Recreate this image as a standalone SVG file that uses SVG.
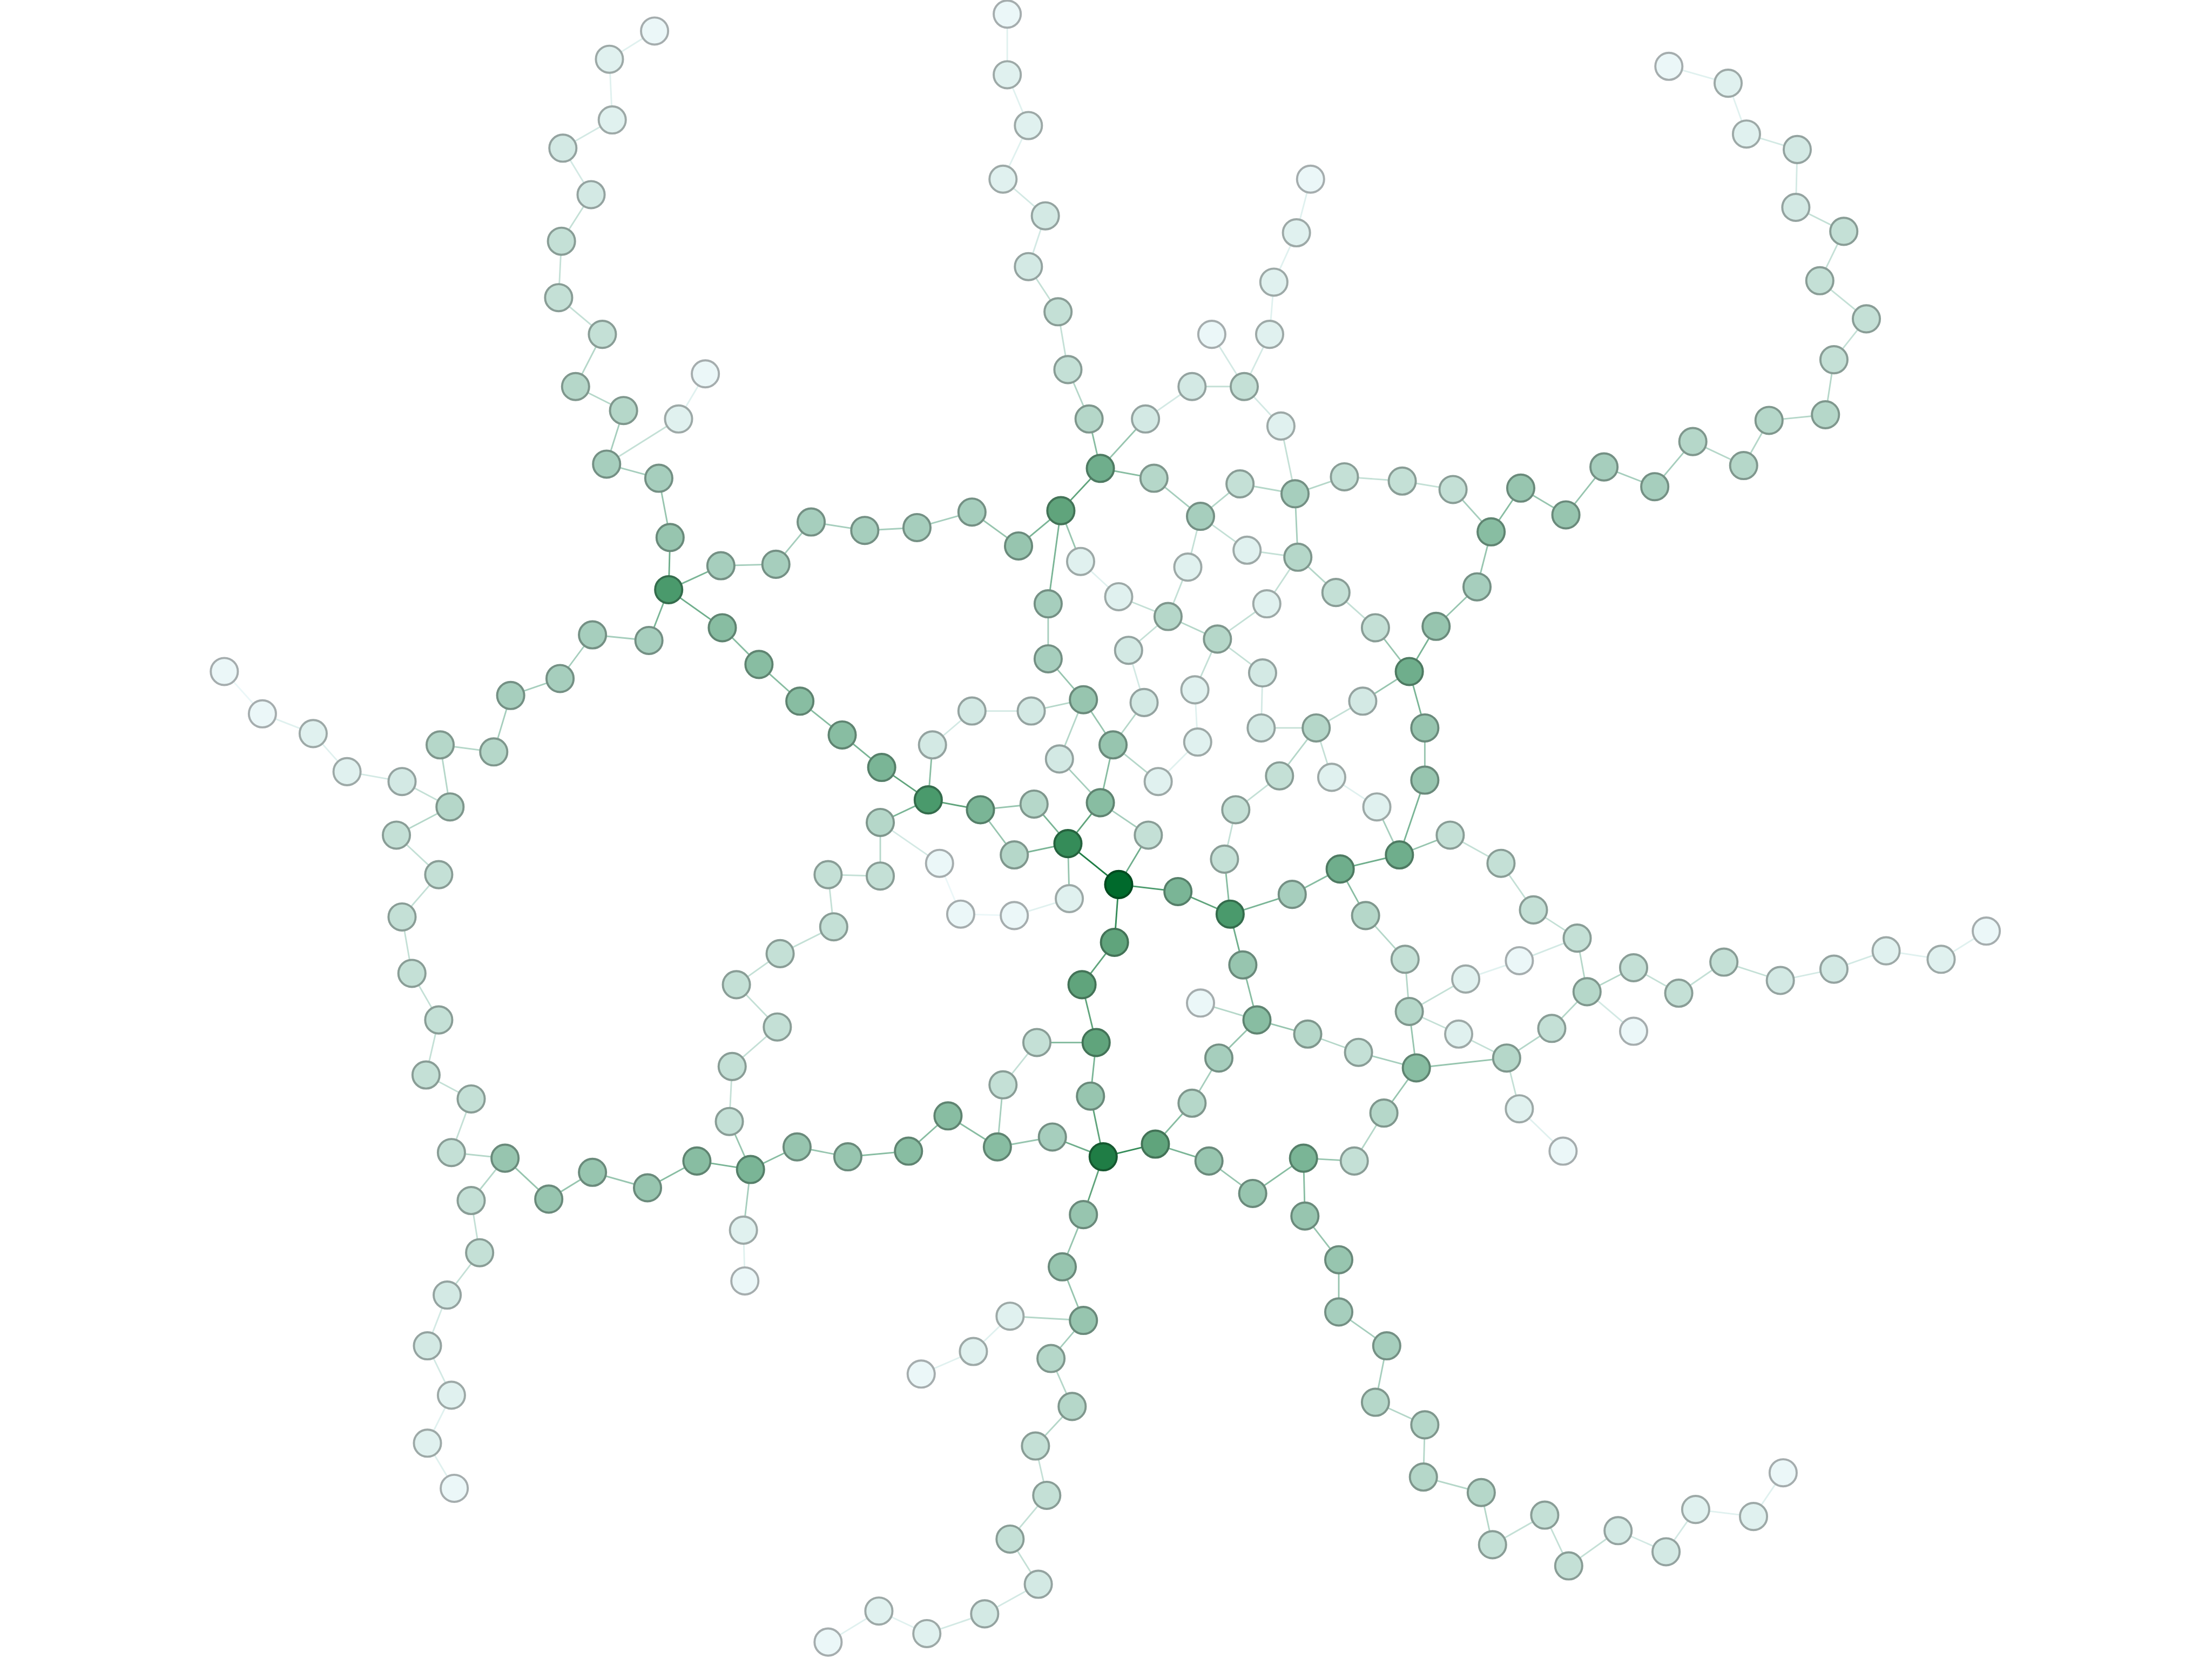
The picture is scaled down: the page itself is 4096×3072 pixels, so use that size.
<svg xmlns="http://www.w3.org/2000/svg" width="4096" height="3072" viewBox="0 0 4096 3072">
<style>
circle{stroke-width:1.5}
line{stroke-width:1.1;fill:none}
.n0{fill:#006a2c;stroke:#004a1f}.n1{fill:#1f7d45;stroke:#165830}.n2{fill:#358c59;stroke:#25623e}.n3{fill:#4a9a6c;stroke:#346c4c}.n4{fill:#60a47c;stroke:#437357}.n5{fill:#6fae8c;stroke:#4e7a62}.n6{fill:#7ab596;stroke:#557f69}.n7{fill:#88bda2;stroke:#5f8471}.n8{fill:#97c5af;stroke:#6a8a7b}.n9{fill:#a6cebd;stroke:#749084}.n10{fill:#b5d7c9;stroke:#7f978d}.n11{fill:#c4e0d6;stroke:#899d96}.n12{fill:#d3e9e4;stroke:#94a3a0}.n13{fill:#e0f1ef;stroke:#9da9a7}.n14{fill:#ebf7f8;stroke:#a5adae}
.e1{stroke:#1f7d45}.e2{stroke:#358c59}.e3{stroke:#4a9a6c}.e4{stroke:#60a47c}.e5{stroke:#6fae8c}.e6{stroke:#7ab596}.e7{stroke:#88bda2}.e8{stroke:#97c5af}.e9{stroke:#a6cebd}.e10{stroke:#b5d7c9}.e11{stroke:#c4e0d6}.e12{stroke:#d3e9e4}.e13{stroke:#e0f1ef}.e14{stroke:#ebf7f8}
</style>
<rect x="0" y="0" width="4096" height="3072" fill="#ffffff"/>
<g transform="scale(2.61224)">
<g id="connectors">
<line class="e1" x1="793" y1="627" x2="757" y2="598"/>
<line class="e3" x1="793" y1="627" x2="835" y2="632"/>
<line class="e2" x1="793" y1="627" x2="790" y2="668"/>
<line class="e5" x1="793" y1="627" x2="814" y2="592"/>
<line class="e4" x1="757" y1="598" x2="780" y2="569"/>
<line class="e6" x1="757" y1="598" x2="733" y2="570"/>
<line class="e6" x1="757" y1="598" x2="719" y2="606"/>
<line class="e8" x1="757" y1="598" x2="758" y2="637"/>
<line class="e9" x1="780" y1="569" x2="814" y2="592"/>
<line class="e7" x1="780" y1="569" x2="789" y2="528"/>
<line class="e9" x1="780" y1="569" x2="751" y2="538"/>
<line class="e8" x1="695" y1="574" x2="733" y2="570"/>
<line class="e8" x1="695" y1="574" x2="719" y2="606"/>
<line class="e4" x1="658" y1="567" x2="695" y2="574"/>
<line class="e6" x1="658" y1="567" x2="624" y2="583"/>
<line class="e7" x1="658" y1="567" x2="661" y2="528"/>
<line class="e4" x1="658" y1="567" x2="625" y2="544"/>
<line class="e10" x1="624" y1="583" x2="624" y2="621"/>
<line class="e12" x1="624" y1="583" x2="666" y2="612"/>
<line class="e11" x1="624" y1="621" x2="587" y2="620"/>
<line class="e11" x1="587" y1="620" x2="591" y2="657"/>
<line class="e11" x1="591" y1="657" x2="553" y2="676"/>
<line class="e14" x1="666" y1="612" x2="681" y2="648"/>
<line class="e14" x1="681" y1="648" x2="719" y2="649"/>
<line class="e13" x1="719" y1="649" x2="758" y2="637"/>
<line class="e4" x1="835" y1="632" x2="872" y2="648"/>
<line class="e7" x1="872" y1="648" x2="868" y2="609"/>
<line class="e11" x1="868" y1="609" x2="876" y2="574"/>
<line class="e11" x1="876" y1="574" x2="907" y2="550"/>
<line class="e5" x1="872" y1="648" x2="881" y2="684"/>
<line class="e6" x1="872" y1="648" x2="916" y2="634"/>
<line class="e7" x1="916" y1="634" x2="950" y2="616"/>
<line class="e5" x1="950" y1="616" x2="992" y2="606"/>
<line class="e7" x1="950" y1="616" x2="968" y2="649"/>
<line class="e10" x1="968" y1="649" x2="996" y2="680"/>
<line class="e10" x1="996" y1="680" x2="999" y2="717"/>
<line class="e11" x1="999" y1="717" x2="1039" y2="694"/>
<line class="e13" x1="1039" y1="694" x2="1077" y2="681"/>
<line class="e12" x1="1077" y1="681" x2="1118" y2="665"/>
<line class="e11" x1="1118" y1="665" x2="1087" y2="645"/>
<line class="e11" x1="1087" y1="645" x2="1064" y2="612"/>
<line class="e11" x1="1064" y1="612" x2="1028" y2="592"/>
<line class="e8" x1="1028" y1="592" x2="992" y2="606"/>
<line class="e9" x1="992" y1="606" x2="976" y2="572"/>
<line class="e6" x1="992" y1="606" x2="1010" y2="553"/>
<line class="e10" x1="1118" y1="665" x2="1125" y2="703"/>
<line class="e10" x1="1125" y1="703" x2="1158" y2="686"/>
<line class="e12" x1="1125" y1="703" x2="1158" y2="731"/>
<line class="e10" x1="1125" y1="703" x2="1100" y2="729"/>
<line class="e10" x1="1100" y1="729" x2="1068" y2="750"/>
<line class="e11" x1="1068" y1="750" x2="1077" y2="786"/>
<line class="e13" x1="1077" y1="786" x2="1108" y2="816"/>
<line class="e8" x1="1068" y1="750" x2="1004" y2="757"/>
<line class="e11" x1="1034" y1="733" x2="1068" y2="750"/>
<line class="e11" x1="999" y1="717" x2="1034" y2="733"/>
<line class="e8" x1="999" y1="717" x2="1004" y2="757"/>
<line class="e9" x1="1004" y1="757" x2="963" y2="746"/>
<line class="e10" x1="963" y1="746" x2="927" y2="733"/>
<line class="e8" x1="927" y1="733" x2="891" y2="723"/>
<line class="e7" x1="891" y1="723" x2="881" y2="684"/>
<line class="e10" x1="891" y1="723" x2="851" y2="711"/>
<line class="e8" x1="891" y1="723" x2="864" y2="750"/>
<line class="e9" x1="864" y1="750" x2="845" y2="782"/>
<line class="e7" x1="845" y1="782" x2="819" y2="811"/>
<line class="e2" x1="819" y1="811" x2="782" y2="820"/>
<line class="e6" x1="819" y1="811" x2="857" y2="823"/>
<line class="e8" x1="857" y1="823" x2="888" y2="846"/>
<line class="e7" x1="888" y1="846" x2="924" y2="821"/>
<line class="e8" x1="924" y1="821" x2="960" y2="823"/>
<line class="e10" x1="960" y1="823" x2="981" y2="789"/>
<line class="e8" x1="981" y1="789" x2="1004" y2="757"/>
<line class="e7" x1="924" y1="821" x2="925" y2="862"/>
<line class="e4" x1="790" y1="668" x2="767" y2="698"/>
<line class="e4" x1="767" y1="698" x2="777" y2="739"/>
<line class="e7" x1="777" y1="739" x2="735" y2="739"/>
<line class="e11" x1="735" y1="739" x2="711" y2="769"/>
<line class="e9" x1="711" y1="769" x2="707" y2="813"/>
<line class="e6" x1="777" y1="739" x2="773" y2="777"/>
<line class="e4" x1="773" y1="777" x2="782" y2="820"/>
<line class="e5" x1="782" y1="820" x2="746" y2="806"/>
<line class="e8" x1="746" y1="806" x2="707" y2="813"/>
<line class="e7" x1="707" y1="813" x2="672" y2="791"/>
<line class="e7" x1="672" y1="791" x2="644" y2="816"/>
<line class="e7" x1="644" y1="816" x2="601" y2="820"/>
<line class="e8" x1="601" y1="820" x2="565" y2="813"/>
<line class="e7" x1="565" y1="813" x2="532" y2="829"/>
<line class="e4" x1="782" y1="820" x2="768" y2="861"/>
<line class="e6" x1="532" y1="829" x2="494" y2="823"/>
<line class="e9" x1="532" y1="829" x2="527" y2="872"/>
<line class="e8" x1="532" y1="829" x2="517" y2="795"/>
<line class="e11" x1="1158" y1="686" x2="1190" y2="704"/>
<line class="e11" x1="1190" y1="704" x2="1222" y2="682"/>
<line class="e11" x1="1222" y1="682" x2="1262" y2="695"/>
<line class="e12" x1="1262" y1="695" x2="1300" y2="687"/>
<line class="e12" x1="1300" y1="687" x2="1337" y2="674"/>
<line class="e13" x1="1337" y1="674" x2="1376" y2="680"/>
<line class="e13" x1="1376" y1="680" x2="1408" y2="660"/>
<line class="e4" x1="780" y1="332" x2="752" y2="362"/>
<line class="e7" x1="780" y1="332" x2="818" y2="339"/>
<line class="e7" x1="780" y1="332" x2="772" y2="297"/>
<line class="e8" x1="780" y1="332" x2="812" y2="297"/>
<line class="e6" x1="752" y1="362" x2="722" y2="387"/>
<line class="e6" x1="752" y1="362" x2="743" y2="428"/>
<line class="e8" x1="752" y1="362" x2="766" y2="398"/>
<line class="e8" x1="722" y1="387" x2="689" y2="363"/>
<line class="e9" x1="689" y1="363" x2="650" y2="374"/>
<line class="e9" x1="650" y1="374" x2="613" y2="376"/>
<line class="e9" x1="613" y1="376" x2="575" y2="370"/>
<line class="e9" x1="575" y1="370" x2="550" y2="400"/>
<line class="e9" x1="550" y1="400" x2="511" y2="401"/>
<line class="e6" x1="511" y1="401" x2="474" y2="418"/>
<line class="e13" x1="766" y1="398" x2="793" y2="423"/>
<line class="e11" x1="793" y1="423" x2="828" y2="437"/>
<line class="e11" x1="828" y1="437" x2="842" y2="402"/>
<line class="e11" x1="842" y1="402" x2="851" y2="366"/>
<line class="e10" x1="828" y1="437" x2="863" y2="453"/>
<line class="e11" x1="828" y1="437" x2="800" y2="461"/>
<line class="e12" x1="800" y1="461" x2="811" y2="498"/>
<line class="e10" x1="811" y1="498" x2="789" y2="528"/>
<line class="e10" x1="789" y1="528" x2="821" y2="554"/>
<line class="e13" x1="821" y1="554" x2="849" y2="526"/>
<line class="e13" x1="849" y1="526" x2="847" y2="489"/>
<line class="e11" x1="847" y1="489" x2="863" y2="453"/>
<line class="e11" x1="863" y1="453" x2="898" y2="428"/>
<line class="e11" x1="863" y1="453" x2="895" y2="477"/>
<line class="e9" x1="743" y1="428" x2="743" y2="467"/>
<line class="e8" x1="743" y1="467" x2="768" y2="496"/>
<line class="e10" x1="768" y1="496" x2="731" y2="504"/>
<line class="e12" x1="731" y1="504" x2="689" y2="504"/>
<line class="e12" x1="689" y1="504" x2="661" y2="528"/>
<line class="e10" x1="768" y1="496" x2="751" y2="538"/>
<line class="e8" x1="768" y1="496" x2="789" y2="528"/>
<line class="e9" x1="851" y1="366" x2="818" y2="339"/>
<line class="e10" x1="851" y1="366" x2="879" y2="343"/>
<line class="e11" x1="851" y1="366" x2="884" y2="390"/>
<line class="e12" x1="812" y1="297" x2="845" y2="274"/>
<line class="e11" x1="845" y1="274" x2="882" y2="274"/>
<line class="e12" x1="882" y1="274" x2="859" y2="237"/>
<line class="e12" x1="882" y1="274" x2="900" y2="237"/>
<line class="e13" x1="900" y1="237" x2="903" y2="200"/>
<line class="e13" x1="903" y1="200" x2="919" y2="165"/>
<line class="e13" x1="919" y1="165" x2="929" y2="127"/>
<line class="e12" x1="882" y1="274" x2="908" y2="302"/>
<line class="e11" x1="908" y1="302" x2="918" y2="350"/>
<line class="e10" x1="918" y1="350" x2="879" y2="343"/>
<line class="e10" x1="918" y1="350" x2="953" y2="338"/>
<line class="e9" x1="918" y1="350" x2="920" y2="395"/>
<line class="e11" x1="920" y1="395" x2="884" y2="390"/>
<line class="e11" x1="920" y1="395" x2="898" y2="428"/>
<line class="e10" x1="920" y1="395" x2="947" y2="420"/>
<line class="e11" x1="947" y1="420" x2="975" y2="445"/>
<line class="e8" x1="975" y1="445" x2="999" y2="476"/>
<line class="e6" x1="999" y1="476" x2="1018" y2="444"/>
<line class="e8" x1="1018" y1="444" x2="1047" y2="416"/>
<line class="e8" x1="1047" y1="416" x2="1057" y2="377"/>
<line class="e9" x1="1057" y1="377" x2="1030" y2="347"/>
<line class="e11" x1="1030" y1="347" x2="994" y2="341"/>
<line class="e11" x1="994" y1="341" x2="953" y2="338"/>
<line class="e7" x1="1057" y1="377" x2="1078" y2="346"/>
<line class="e8" x1="1078" y1="346" x2="1110" y2="365"/>
<line class="e8" x1="1110" y1="365" x2="1137" y2="331"/>
<line class="e9" x1="1137" y1="331" x2="1173" y2="345"/>
<line class="e9" x1="1173" y1="345" x2="1200" y2="313"/>
<line class="e10" x1="1200" y1="313" x2="1236" y2="330"/>
<line class="e10" x1="1236" y1="330" x2="1254" y2="298"/>
<line class="e10" x1="1254" y1="298" x2="1294" y2="294"/>
<line class="e10" x1="1294" y1="294" x2="1300" y2="255"/>
<line class="e11" x1="1300" y1="255" x2="1323" y2="226"/>
<line class="e11" x1="1323" y1="226" x2="1290" y2="199"/>
<line class="e11" x1="1290" y1="199" x2="1307" y2="164"/>
<line class="e11" x1="1307" y1="164" x2="1273" y2="147"/>
<line class="e12" x1="1273" y1="147" x2="1274" y2="106"/>
<line class="e12" x1="1274" y1="106" x2="1238" y2="95"/>
<line class="e13" x1="1238" y1="95" x2="1225" y2="59"/>
<line class="e13" x1="1225" y1="59" x2="1183" y2="47"/>
<line class="e8" x1="999" y1="476" x2="966" y2="497"/>
<line class="e11" x1="966" y1="497" x2="933" y2="516"/>
<line class="e11" x1="933" y1="516" x2="894" y2="516"/>
<line class="e12" x1="894" y1="516" x2="895" y2="477"/>
<line class="e10" x1="933" y1="516" x2="907" y2="550"/>
<line class="e11" x1="933" y1="516" x2="944" y2="551"/>
<line class="e13" x1="944" y1="551" x2="976" y2="572"/>
<line class="e6" x1="999" y1="476" x2="1010" y2="516"/>
<line class="e8" x1="1010" y1="516" x2="1010" y2="553"/>
<line class="e10" x1="772" y1="297" x2="757" y2="262"/>
<line class="e11" x1="757" y1="262" x2="750" y2="221"/>
<line class="e11" x1="750" y1="221" x2="729" y2="189"/>
<line class="e12" x1="729" y1="189" x2="741" y2="153"/>
<line class="e12" x1="741" y1="153" x2="711" y2="127"/>
<line class="e13" x1="711" y1="127" x2="729" y2="89"/>
<line class="e13" x1="729" y1="89" x2="714" y2="53"/>
<line class="e13" x1="714" y1="53" x2="714" y2="10"/>
<line class="e5" x1="474" y1="418" x2="475" y2="381"/>
<line class="e8" x1="475" y1="381" x2="467" y2="339"/>
<line class="e9" x1="467" y1="339" x2="430" y2="329"/>
<line class="e11" x1="430" y1="329" x2="481" y2="297"/>
<line class="e13" x1="481" y1="297" x2="500" y2="265"/>
<line class="e9" x1="430" y1="329" x2="442" y2="291"/>
<line class="e10" x1="442" y1="291" x2="408" y2="274"/>
<line class="e10" x1="408" y1="274" x2="427" y2="237"/>
<line class="e11" x1="427" y1="237" x2="396" y2="211"/>
<line class="e11" x1="396" y1="211" x2="398" y2="171"/>
<line class="e11" x1="398" y1="171" x2="419" y2="138"/>
<line class="e12" x1="419" y1="138" x2="399" y2="105"/>
<line class="e12" x1="399" y1="105" x2="434" y2="85"/>
<line class="e13" x1="434" y1="85" x2="432" y2="42"/>
<line class="e13" x1="432" y1="42" x2="464" y2="22"/>
<line class="e5" x1="474" y1="418" x2="512" y2="445"/>
<line class="e7" x1="512" y1="445" x2="538" y2="471"/>
<line class="e7" x1="538" y1="471" x2="567" y2="497"/>
<line class="e7" x1="567" y1="497" x2="597" y2="521"/>
<line class="e6" x1="597" y1="521" x2="625" y2="544"/>
<line class="e6" x1="474" y1="418" x2="460" y2="454"/>
<line class="e9" x1="460" y1="454" x2="420" y2="450"/>
<line class="e9" x1="420" y1="450" x2="397" y2="481"/>
<line class="e9" x1="397" y1="481" x2="362" y2="493"/>
<line class="e9" x1="362" y1="493" x2="350" y2="533"/>
<line class="e10" x1="350" y1="533" x2="312" y2="528"/>
<line class="e10" x1="312" y1="528" x2="319" y2="572"/>
<line class="e11" x1="319" y1="572" x2="285" y2="554"/>
<line class="e12" x1="285" y1="554" x2="246" y2="547"/>
<line class="e13" x1="246" y1="547" x2="222" y2="520"/>
<line class="e13" x1="222" y1="520" x2="186" y2="506"/>
<line class="e14" x1="186" y1="506" x2="159" y2="476"/>
<line class="e10" x1="319" y1="572" x2="281" y2="592"/>
<line class="e11" x1="281" y1="592" x2="311" y2="620"/>
<line class="e11" x1="311" y1="620" x2="285" y2="650"/>
<line class="e11" x1="285" y1="650" x2="292" y2="690"/>
<line class="e11" x1="292" y1="690" x2="311" y2="723"/>
<line class="e11" x1="311" y1="723" x2="302" y2="762"/>
<line class="e11" x1="302" y1="762" x2="334" y2="779"/>
<line class="e11" x1="334" y1="779" x2="320" y2="817"/>
<line class="e10" x1="320" y1="817" x2="358" y2="821"/>
<line class="e10" x1="358" y1="821" x2="334" y2="851"/>
<line class="e11" x1="334" y1="851" x2="340" y2="888"/>
<line class="e11" x1="340" y1="888" x2="317" y2="918"/>
<line class="e12" x1="317" y1="918" x2="303" y2="954"/>
<line class="e12" x1="303" y1="954" x2="320" y2="989"/>
<line class="e13" x1="320" y1="989" x2="303" y2="1023"/>
<line class="e13" x1="303" y1="1023" x2="322" y2="1055"/>
<line class="e8" x1="358" y1="821" x2="389" y2="850"/>
<line class="e8" x1="389" y1="850" x2="420" y2="831"/>
<line class="e8" x1="420" y1="831" x2="459" y2="842"/>
<line class="e7" x1="459" y1="842" x2="494" y2="823"/>
<line class="e13" x1="527" y1="872" x2="528" y2="908"/>
<line class="e11" x1="517" y1="795" x2="519" y2="756"/>
<line class="e11" x1="519" y1="756" x2="551" y2="728"/>
<line class="e11" x1="551" y1="728" x2="522" y2="698"/>
<line class="e11" x1="522" y1="698" x2="553" y2="676"/>
<line class="e8" x1="768" y1="861" x2="753" y2="898"/>
<line class="e8" x1="753" y1="898" x2="768" y2="936"/>
<line class="e10" x1="768" y1="936" x2="716" y2="933"/>
<line class="e13" x1="716" y1="933" x2="690" y2="958"/>
<line class="e13" x1="690" y1="958" x2="653" y2="974"/>
<line class="e9" x1="768" y1="936" x2="745" y2="963"/>
<line class="e10" x1="745" y1="963" x2="760" y2="997"/>
<line class="e10" x1="760" y1="997" x2="734" y2="1025"/>
<line class="e11" x1="734" y1="1025" x2="742" y2="1060"/>
<line class="e11" x1="742" y1="1060" x2="716" y2="1091"/>
<line class="e11" x1="716" y1="1091" x2="736" y2="1123"/>
<line class="e12" x1="736" y1="1123" x2="698" y2="1144"/>
<line class="e12" x1="698" y1="1144" x2="657" y2="1158"/>
<line class="e13" x1="657" y1="1158" x2="623" y2="1142"/>
<line class="e13" x1="623" y1="1142" x2="587" y2="1164"/>
<line class="e8" x1="925" y1="862" x2="949" y2="893"/>
<line class="e8" x1="949" y1="893" x2="949" y2="930"/>
<line class="e9" x1="949" y1="930" x2="983" y2="954"/>
<line class="e9" x1="983" y1="954" x2="975" y2="994"/>
<line class="e10" x1="975" y1="994" x2="1010" y2="1010"/>
<line class="e10" x1="1010" y1="1010" x2="1009" y2="1047"/>
<line class="e10" x1="1009" y1="1047" x2="1050" y2="1058"/>
<line class="e10" x1="1050" y1="1058" x2="1058" y2="1095"/>
<line class="e11" x1="1058" y1="1095" x2="1095" y2="1074"/>
<line class="e11" x1="1095" y1="1074" x2="1112" y2="1110"/>
<line class="e11" x1="1112" y1="1110" x2="1147" y2="1085"/>
<line class="e12" x1="1147" y1="1085" x2="1181" y2="1100"/>
<line class="e12" x1="1181" y1="1100" x2="1202" y2="1070"/>
<line class="e13" x1="1202" y1="1070" x2="1243" y2="1075"/>
<line class="e13" x1="1243" y1="1075" x2="1264" y2="1044"/>
</g>
<g id="nodes">
<g id="c0"><circle class="n0" cx="793" cy="627" r="9.6"/></g>
<g id="c1"><circle class="n2" cx="757" cy="598" r="9.6"/></g>
<g id="c2"><circle class="n6" cx="835" cy="632" r="9.6"/></g>
<g id="c3"><circle class="n4" cx="790" cy="668" r="9.6"/></g>
<g id="c4"><circle class="n11" cx="814" cy="592" r="9.6"/></g>
<g id="c5"><circle class="n7" cx="780" cy="569" r="9.6"/></g>
<g id="c6"><circle class="n10" cx="733" cy="570" r="9.6"/></g>
<g id="c7"><circle class="n6" cx="695" cy="574" r="9.6"/></g>
<g id="c8"><circle class="n10" cx="719" cy="606" r="9.6"/></g>
<g id="c9"><circle class="n13" cx="758" cy="637" r="9.6"/></g>
<g id="c10"><circle class="n14" cx="719" cy="649" r="9.6"/></g>
<g id="c11"><circle class="n14" cx="681" cy="648" r="9.6"/></g>
<g id="c12"><circle class="n14" cx="666" cy="612" r="9.6"/></g>
<g id="c13"><circle class="n10" cx="624" cy="583" r="9.6"/></g>
<g id="c14"><circle class="n11" cx="624" cy="621" r="9.6"/></g>
<g id="c15"><circle class="n11" cx="587" cy="620" r="9.6"/></g>
<g id="c16"><circle class="n11" cx="591" cy="657" r="9.6"/></g>
<g id="c17"><circle class="n3" cx="658" cy="567" r="9.6"/></g>
<g id="c18"><circle class="n3" cx="872" cy="648" r="9.6"/></g>
<g id="c19"><circle class="n11" cx="868" cy="609" r="9.6"/></g>
<g id="c20"><circle class="n11" cx="876" cy="574" r="9.6"/></g>
<g id="c21"><circle class="n8" cx="881" cy="684" r="9.6"/></g>
<g id="c22"><circle class="n9" cx="916" cy="634" r="9.6"/></g>
<g id="c23"><circle class="n5" cx="950" cy="616" r="9.6"/></g>
<g id="c24"><circle class="n5" cx="992" cy="606" r="9.6"/></g>
<g id="c25"><circle class="n10" cx="968" cy="649" r="9.6"/></g>
<g id="c26"><circle class="n11" cx="996" cy="680" r="9.6"/></g>
<g id="c27"><circle class="n10" cx="999" cy="717" r="9.6"/></g>
<g id="c28"><circle class="n13" cx="1034" cy="733" r="9.6"/></g>
<g id="c29"><circle class="n13" cx="1039" cy="694" r="9.6"/></g>
<g id="c30"><circle class="n14" cx="1077" cy="681" r="9.6"/></g>
<g id="c31"><circle class="n11" cx="1118" cy="665" r="9.6"/></g>
<g id="c32"><circle class="n11" cx="1087" cy="645" r="9.6"/></g>
<g id="c33"><circle class="n11" cx="1064" cy="612" r="9.6"/></g>
<g id="c34"><circle class="n11" cx="1028" cy="592" r="9.6"/></g>
<g id="c35"><circle class="n10" cx="1125" cy="703" r="9.6"/></g>
<g id="c36"><circle class="n11" cx="1158" cy="686" r="9.6"/></g>
<g id="c37"><circle class="n14" cx="1158" cy="731" r="9.6"/></g>
<g id="c38"><circle class="n11" cx="1100" cy="729" r="9.6"/></g>
<g id="c39"><circle class="n10" cx="1068" cy="750" r="9.6"/></g>
<g id="c40"><circle class="n13" cx="1077" cy="786" r="9.6"/></g>
<g id="c41"><circle class="n14" cx="1108" cy="816" r="9.6"/></g>
<g id="c42"><circle class="n7" cx="1004" cy="757" r="9.6"/></g>
<g id="c43"><circle class="n11" cx="963" cy="746" r="9.6"/></g>
<g id="c44"><circle class="n10" cx="927" cy="733" r="9.6"/></g>
<g id="c45"><circle class="n7" cx="891" cy="723" r="9.6"/></g>
<g id="c46"><circle class="n14" cx="851" cy="711" r="9.6"/></g>
<g id="c47"><circle class="n9" cx="864" cy="750" r="9.6"/></g>
<g id="c48"><circle class="n10" cx="845" cy="782" r="9.6"/></g>
<g id="c49"><circle class="n4" cx="819" cy="811" r="9.6"/></g>
<g id="c50"><circle class="n1" cx="782" cy="820" r="9.6"/></g>
<g id="c51"><circle class="n8" cx="773" cy="777" r="9.6"/></g>
<g id="c52"><circle class="n4" cx="777" cy="739" r="9.6"/></g>
<g id="c53"><circle class="n4" cx="767" cy="698" r="9.6"/></g>
<g id="c54"><circle class="n11" cx="735" cy="739" r="9.6"/></g>
<g id="c55"><circle class="n11" cx="711" cy="769" r="9.6"/></g>
<g id="c56"><circle class="n7" cx="707" cy="813" r="9.6"/></g>
<g id="c57"><circle class="n9" cx="746" cy="806" r="9.6"/></g>
<g id="c58"><circle class="n7" cx="672" cy="791" r="9.6"/></g>
<g id="c59"><circle class="n7" cx="644" cy="816" r="9.6"/></g>
<g id="c60"><circle class="n8" cx="601" cy="820" r="9.6"/></g>
<g id="c61"><circle class="n8" cx="565" cy="813" r="9.6"/></g>
<g id="c62"><circle class="n6" cx="532" cy="829" r="9.6"/></g>
<g id="c63"><circle class="n10" cx="981" cy="789" r="9.6"/></g>
<g id="c64"><circle class="n11" cx="960" cy="823" r="9.6"/></g>
<g id="c65"><circle class="n6" cx="924" cy="821" r="9.6"/></g>
<g id="c66"><circle class="n8" cx="888" cy="846" r="9.6"/></g>
<g id="c67"><circle class="n8" cx="857" cy="823" r="9.6"/></g>
<g id="r1"><circle class="n11" cx="1190" cy="704" r="9.6"/></g>
<g id="r2"><circle class="n11" cx="1222" cy="682" r="9.6"/></g>
<g id="r3"><circle class="n12" cx="1262" cy="695" r="9.6"/></g>
<g id="r4"><circle class="n12" cx="1300" cy="687" r="9.6"/></g>
<g id="r5"><circle class="n13" cx="1337" cy="674" r="9.6"/></g>
<g id="r6"><circle class="n13" cx="1376" cy="680" r="9.6"/></g>
<g id="r7"><circle class="n14" cx="1408" cy="660" r="9.6"/></g>
<g id="u1"><circle class="n5" cx="780" cy="332" r="9.6"/></g>
<g id="u2"><circle class="n4" cx="752" cy="362" r="9.6"/></g>
<g id="u3"><circle class="n8" cx="722" cy="387" r="9.6"/></g>
<g id="u4"><circle class="n9" cx="689" cy="363" r="9.6"/></g>
<g id="u5"><circle class="n9" cx="650" cy="374" r="9.6"/></g>
<g id="u6"><circle class="n9" cx="613" cy="376" r="9.6"/></g>
<g id="u7"><circle class="n9" cx="575" cy="370" r="9.6"/></g>
<g id="u8"><circle class="n9" cx="550" cy="400" r="9.6"/></g>
<g id="u9"><circle class="n9" cx="511" cy="401" r="9.6"/></g>
<g id="u10"><circle class="n3" cx="474" cy="418" r="9.6"/></g>
<g id="u11"><circle class="n13" cx="766" cy="398" r="9.6"/></g>
<g id="u12"><circle class="n13" cx="793" cy="423" r="9.6"/></g>
<g id="u13"><circle class="n9" cx="743" cy="428" r="9.6"/></g>
<g id="u14"><circle class="n9" cx="743" cy="467" r="9.6"/></g>
<g id="u15"><circle class="n8" cx="768" cy="496" r="9.6"/></g>
<g id="u16"><circle class="n12" cx="731" cy="504" r="9.6"/></g>
<g id="u17"><circle class="n12" cx="689" cy="504" r="9.6"/></g>
<g id="u18"><circle class="n12" cx="661" cy="528" r="9.6"/></g>
<g id="u19"><circle class="n12" cx="751" cy="538" r="9.6"/></g>
<g id="u20"><circle class="n8" cx="789" cy="528" r="9.6"/></g>
<g id="u21"><circle class="n12" cx="800" cy="461" r="9.6"/></g>
<g id="u22"><circle class="n12" cx="811" cy="498" r="9.6"/></g>
<g id="u23"><circle class="n13" cx="821" cy="554" r="9.6"/></g>
<g id="u24"><circle class="n13" cx="849" cy="526" r="9.6"/></g>
<g id="u25"><circle class="n13" cx="847" cy="489" r="9.6"/></g>
<g id="u26"><circle class="n10" cx="828" cy="437" r="9.6"/></g>
<g id="u27"><circle class="n13" cx="842" cy="402" r="9.6"/></g>
<g id="u28"><circle class="n10" cx="863" cy="453" r="9.6"/></g>
<g id="u29"><circle class="n9" cx="851" cy="366" r="9.6"/></g>
<g id="u30"><circle class="n10" cx="818" cy="339" r="9.6"/></g>
<g id="u31"><circle class="n12" cx="812" cy="297" r="9.6"/></g>
<g id="u32"><circle class="n12" cx="845" cy="274" r="9.6"/></g>
<g id="u33"><circle class="n11" cx="882" cy="274" r="9.6"/></g>
<g id="u34"><circle class="n14" cx="859" cy="237" r="9.6"/></g>
<g id="u35"><circle class="n13" cx="900" cy="237" r="9.6"/></g>
<g id="u36"><circle class="n13" cx="903" cy="200" r="9.6"/></g>
<g id="u37"><circle class="n13" cx="919" cy="165" r="9.6"/></g>
<g id="u38"><circle class="n14" cx="929" cy="127" r="9.6"/></g>
<g id="u39"><circle class="n13" cx="908" cy="302" r="9.6"/></g>
<g id="u40"><circle class="n9" cx="918" cy="350" r="9.6"/></g>
<g id="u41"><circle class="n11" cx="879" cy="343" r="9.6"/></g>
<g id="u42"><circle class="n13" cx="884" cy="390" r="9.6"/></g>
<g id="u43"><circle class="n10" cx="920" cy="395" r="9.6"/></g>
<g id="u44"><circle class="n13" cx="898" cy="428" r="9.6"/></g>
<g id="u45"><circle class="n12" cx="895" cy="477" r="9.6"/></g>
<g id="u46"><circle class="n12" cx="894" cy="516" r="9.6"/></g>
<g id="u47"><circle class="n10" cx="933" cy="516" r="9.6"/></g>
<g id="u48"><circle class="n12" cx="966" cy="497" r="9.6"/></g>
<g id="u49"><circle class="n11" cx="907" cy="550" r="9.6"/></g>
<g id="u50"><circle class="n13" cx="944" cy="551" r="9.6"/></g>
<g id="u51"><circle class="n13" cx="976" cy="572" r="9.6"/></g>
<g id="u52"><circle class="n11" cx="947" cy="420" r="9.6"/></g>
<g id="u53"><circle class="n11" cx="975" cy="445" r="9.6"/></g>
<g id="u54"><circle class="n5" cx="999" cy="476" r="9.6"/></g>
<g id="u55"><circle class="n8" cx="1010" cy="516" r="9.6"/></g>
<g id="u56"><circle class="n8" cx="1010" cy="553" r="9.6"/></g>
<g id="u57"><circle class="n8" cx="1018" cy="444" r="9.6"/></g>
<g id="u58"><circle class="n9" cx="1047" cy="416" r="9.6"/></g>
<g id="u59"><circle class="n7" cx="1057" cy="377" r="9.6"/></g>
<g id="u60"><circle class="n11" cx="1030" cy="347" r="9.6"/></g>
<g id="u61"><circle class="n11" cx="994" cy="341" r="9.6"/></g>
<g id="u62"><circle class="n11" cx="953" cy="338" r="9.6"/></g>
<g id="u63"><circle class="n8" cx="1078" cy="346" r="9.6"/></g>
<g id="u64"><circle class="n8" cx="1110" cy="365" r="9.6"/></g>
<g id="u65"><circle class="n9" cx="1137" cy="331" r="9.6"/></g>
<g id="u66"><circle class="n9" cx="1173" cy="345" r="9.6"/></g>
<g id="u67"><circle class="n10" cx="1200" cy="313" r="9.6"/></g>
<g id="u68"><circle class="n10" cx="1236" cy="330" r="9.6"/></g>
<g id="u69"><circle class="n10" cx="1254" cy="298" r="9.6"/></g>
<g id="u70"><circle class="n10" cx="1294" cy="294" r="9.6"/></g>
<g id="u71"><circle class="n11" cx="1300" cy="255" r="9.6"/></g>
<g id="u72"><circle class="n11" cx="1323" cy="226" r="9.6"/></g>
<g id="u73"><circle class="n11" cx="1290" cy="199" r="9.6"/></g>
<g id="u74"><circle class="n11" cx="1307" cy="164" r="9.6"/></g>
<g id="u75"><circle class="n12" cx="1273" cy="147" r="9.6"/></g>
<g id="u76"><circle class="n12" cx="1274" cy="106" r="9.6"/></g>
<g id="u77"><circle class="n13" cx="1238" cy="95" r="9.6"/></g>
<g id="u78"><circle class="n13" cx="1225" cy="59" r="9.6"/></g>
<g id="u79"><circle class="n14" cx="1183" cy="47" r="9.6"/></g>
<g id="t1"><circle class="n10" cx="772" cy="297" r="9.6"/></g>
<g id="t2"><circle class="n11" cx="757" cy="262" r="9.6"/></g>
<g id="t3"><circle class="n11" cx="750" cy="221" r="9.6"/></g>
<g id="t4"><circle class="n12" cx="729" cy="189" r="9.6"/></g>
<g id="t5"><circle class="n12" cx="741" cy="153" r="9.6"/></g>
<g id="t6"><circle class="n13" cx="711" cy="127" r="9.6"/></g>
<g id="t7"><circle class="n13" cx="729" cy="89" r="9.6"/></g>
<g id="t8"><circle class="n13" cx="714" cy="53" r="9.6"/></g>
<g id="t9"><circle class="n14" cx="714" cy="10" r="9.6"/></g>
<g id="a1"><circle class="n8" cx="475" cy="381" r="9.6"/></g>
<g id="a2"><circle class="n9" cx="467" cy="339" r="9.6"/></g>
<g id="a3"><circle class="n9" cx="430" cy="329" r="9.6"/></g>
<g id="a4"><circle class="n13" cx="481" cy="297" r="9.6"/></g>
<g id="a5"><circle class="n14" cx="500" cy="265" r="9.6"/></g>
<g id="a6"><circle class="n10" cx="442" cy="291" r="9.6"/></g>
<g id="a7"><circle class="n10" cx="408" cy="274" r="9.6"/></g>
<g id="a8"><circle class="n11" cx="427" cy="237" r="9.6"/></g>
<g id="a9"><circle class="n11" cx="396" cy="211" r="9.6"/></g>
<g id="a10"><circle class="n11" cx="398" cy="171" r="9.6"/></g>
<g id="a11"><circle class="n12" cx="419" cy="138" r="9.6"/></g>
<g id="a12"><circle class="n12" cx="399" cy="105" r="9.6"/></g>
<g id="a13"><circle class="n13" cx="434" cy="85" r="9.6"/></g>
<g id="a14"><circle class="n13" cx="432" cy="42" r="9.6"/></g>
<g id="a15"><circle class="n14" cx="464" cy="22" r="9.6"/></g>
<g id="a16"><circle class="n7" cx="512" cy="445" r="9.6"/></g>
<g id="a17"><circle class="n7" cx="538" cy="471" r="9.6"/></g>
<g id="a18"><circle class="n7" cx="567" cy="497" r="9.6"/></g>
<g id="a19"><circle class="n7" cx="597" cy="521" r="9.6"/></g>
<g id="a20"><circle class="n6" cx="625" cy="544" r="9.6"/></g>
<g id="a21"><circle class="n9" cx="460" cy="454" r="9.6"/></g>
<g id="a22"><circle class="n9" cx="420" cy="450" r="9.6"/></g>
<g id="a23"><circle class="n9" cx="397" cy="481" r="9.6"/></g>
<g id="a24"><circle class="n9" cx="362" cy="493" r="9.6"/></g>
<g id="a25"><circle class="n10" cx="350" cy="533" r="9.6"/></g>
<g id="a26"><circle class="n10" cx="312" cy="528" r="9.6"/></g>
<g id="a27"><circle class="n10" cx="319" cy="572" r="9.6"/></g>
<g id="a28"><circle class="n12" cx="285" cy="554" r="9.6"/></g>
<g id="a29"><circle class="n13" cx="246" cy="547" r="9.6"/></g>
<g id="a30"><circle class="n13" cx="222" cy="520" r="9.6"/></g>
<g id="a31"><circle class="n14" cx="186" cy="506" r="9.6"/></g>
<g id="a32"><circle class="n14" cx="159" cy="476" r="9.6"/></g>
<g id="a33"><circle class="n11" cx="281" cy="592" r="9.6"/></g>
<g id="a34"><circle class="n11" cx="311" cy="620" r="9.6"/></g>
<g id="a35"><circle class="n11" cx="285" cy="650" r="9.6"/></g>
<g id="a36"><circle class="n11" cx="292" cy="690" r="9.6"/></g>
<g id="a37"><circle class="n11" cx="311" cy="723" r="9.6"/></g>
<g id="a38"><circle class="n11" cx="302" cy="762" r="9.6"/></g>
<g id="a39"><circle class="n11" cx="334" cy="779" r="9.6"/></g>
<g id="a40"><circle class="n11" cx="320" cy="817" r="9.6"/></g>
<g id="a41"><circle class="n8" cx="358" cy="821" r="9.6"/></g>
<g id="a42"><circle class="n11" cx="334" cy="851" r="9.6"/></g>
<g id="a43"><circle class="n11" cx="340" cy="888" r="9.6"/></g>
<g id="a44"><circle class="n12" cx="317" cy="918" r="9.6"/></g>
<g id="a45"><circle class="n12" cx="303" cy="954" r="9.6"/></g>
<g id="a46"><circle class="n13" cx="320" cy="989" r="9.6"/></g>
<g id="a47"><circle class="n13" cx="303" cy="1023" r="9.6"/></g>
<g id="a48"><circle class="n14" cx="322" cy="1055" r="9.6"/></g>
<g id="a49"><circle class="n8" cx="389" cy="850" r="9.6"/></g>
<g id="a50"><circle class="n8" cx="420" cy="831" r="9.6"/></g>
<g id="a51"><circle class="n8" cx="459" cy="842" r="9.6"/></g>
<g id="a52"><circle class="n7" cx="494" cy="823" r="9.6"/></g>
<g id="a53"><circle class="n13" cx="527" cy="872" r="9.6"/></g>
<g id="a54"><circle class="n14" cx="528" cy="908" r="9.6"/></g>
<g id="a55"><circle class="n11" cx="517" cy="795" r="9.6"/></g>
<g id="a56"><circle class="n11" cx="519" cy="756" r="9.6"/></g>
<g id="a57"><circle class="n11" cx="551" cy="728" r="9.6"/></g>
<g id="a58"><circle class="n11" cx="522" cy="698" r="9.6"/></g>
<g id="a59"><circle class="n11" cx="553" cy="676" r="9.6"/></g>
<g id="b1"><circle class="n8" cx="768" cy="861" r="9.6"/></g>
<g id="b2"><circle class="n8" cx="753" cy="898" r="9.6"/></g>
<g id="b3"><circle class="n8" cx="768" cy="936" r="9.6"/></g>
<g id="b4"><circle class="n13" cx="716" cy="933" r="9.6"/></g>
<g id="b5"><circle class="n13" cx="690" cy="958" r="9.6"/></g>
<g id="b6"><circle class="n14" cx="653" cy="974" r="9.6"/></g>
<g id="b7"><circle class="n10" cx="745" cy="963" r="9.6"/></g>
<g id="b8"><circle class="n10" cx="760" cy="997" r="9.6"/></g>
<g id="b9"><circle class="n11" cx="734" cy="1025" r="9.6"/></g>
<g id="b10"><circle class="n11" cx="742" cy="1060" r="9.6"/></g>
<g id="b11"><circle class="n11" cx="716" cy="1091" r="9.6"/></g>
<g id="b12"><circle class="n12" cx="736" cy="1123" r="9.6"/></g>
<g id="b13"><circle class="n12" cx="698" cy="1144" r="9.6"/></g>
<g id="b14"><circle class="n13" cx="657" cy="1158" r="9.6"/></g>
<g id="b15"><circle class="n13" cx="623" cy="1142" r="9.6"/></g>
<g id="b16"><circle class="n14" cx="587" cy="1164" r="9.6"/></g>
<g id="d1"><circle class="n8" cx="925" cy="862" r="9.6"/></g>
<g id="d2"><circle class="n8" cx="949" cy="893" r="9.6"/></g>
<g id="d3"><circle class="n9" cx="949" cy="930" r="9.6"/></g>
<g id="d4"><circle class="n9" cx="983" cy="954" r="9.6"/></g>
<g id="d5"><circle class="n10" cx="975" cy="994" r="9.6"/></g>
<g id="d6"><circle class="n10" cx="1010" cy="1010" r="9.6"/></g>
<g id="d7"><circle class="n10" cx="1009" cy="1047" r="9.6"/></g>
<g id="d8"><circle class="n10" cx="1050" cy="1058" r="9.6"/></g>
<g id="d9"><circle class="n11" cx="1058" cy="1095" r="9.6"/></g>
<g id="d10"><circle class="n11" cx="1095" cy="1074" r="9.6"/></g>
<g id="d11"><circle class="n11" cx="1112" cy="1110" r="9.6"/></g>
<g id="d12"><circle class="n12" cx="1147" cy="1085" r="9.6"/></g>
<g id="d13"><circle class="n12" cx="1181" cy="1100" r="9.6"/></g>
<g id="d14"><circle class="n13" cx="1202" cy="1070" r="9.6"/></g>
<g id="d15"><circle class="n13" cx="1243" cy="1075" r="9.6"/></g>
<g id="d16"><circle class="n14" cx="1264" cy="1044" r="9.6"/></g>
</g>
</g>
</svg>
